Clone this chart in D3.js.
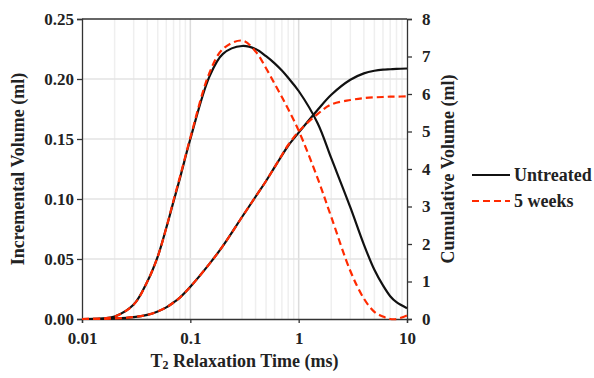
<!DOCTYPE html>
<html>
<head>
<meta charset="utf-8">
<script src="https://cdn.jsdelivr.net/npm/d3@7"></script>
<style>
  body { margin: 0; background: #fff; }
  svg text { font-family: "Liberation Serif", "Times New Roman", serif; font-weight: bold; fill: #222; }
</style>
</head>
<body>
<svg id="grafico"></svg>
<script>
const largura = 594;
const altura = 378;
const margem = { top: 19, right: 187, bottom: 59, left: 82 };

// T2 relaxation time (ms)
const tempos = [0.01, 0.015, 0.02, 0.03, 0.04, 0.05, 0.06, 0.07, 0.08, 0.1, 0.15, 0.2, 0.3, 0.4,
                0.5, 0.6, 0.7, 0.8, 1, 1.5, 2, 3, 4, 5, 6, 7, 8, 10];
// incremental volume (ml), left axis
const incNaoTratado = [0, 0.0004, 0.002, 0.012, 0.031, 0.052, 0.076, 0.098, 0.117, 0.150, 0.202, 0.221, 0.2275, 0.225,
                       0.219, 0.213, 0.207, 0.201, 0.190, 0.163, 0.134, 0.093, 0.062, 0.041, 0.028, 0.019, 0.014, 0.009];
const inc5Semanas  = [0, 0.0004, 0.002, 0.012, 0.031, 0.052, 0.076, 0.099, 0.118, 0.151, 0.205, 0.225, 0.232, 0.223,
                      0.209, 0.196, 0.185, 0.175, 0.157, 0.117, 0.085, 0.040, 0.017, 0.006, 0.002, 0.000, 0.000, 0.003];
// cumulative volume (ml), right axis
const cumNaoTratado = [0, 0.004, 0.015, 0.05, 0.11, 0.20, 0.31, 0.44, 0.57, 0.86, 1.47, 1.95, 2.72, 3.26,
                       3.68, 4.05, 4.36, 4.62, 4.97, 5.58, 5.98, 6.38, 6.55, 6.62, 6.65, 6.66, 6.67, 6.68];
const cum5Semanas  = [0, 0.004, 0.015, 0.05, 0.11, 0.20, 0.31, 0.44, 0.57, 0.86, 1.47, 1.95, 2.72, 3.26,
                      3.68, 4.05, 4.37, 4.64, 5.00, 5.47, 5.72, 5.84, 5.89, 5.91, 5.92, 5.93, 5.93, 5.94];

const ticksX = [0.01, 0.1, 1, 10];
const ticksEsq = [0, 0.05, 0.10, 0.15, 0.20, 0.25];
const ticksDir = [0, 1, 2, 3, 4, 5, 6, 7, 8];

const vermelho = "#ff2a00";

const svg = d3.select("#grafico")
    .attr("width", largura)
    .attr("height", altura);

// Escalas
const x = d3.scaleLog()
    .domain([0.01, 10])
    .range([margem.left, largura - margem.right]);

const yEsq = d3.scaleLinear()
    .domain([0, 0.25])
    .range([altura - margem.bottom, margem.top]);

const yDir = d3.scaleLinear()
    .domain([0, 8])
    .range([altura - margem.bottom, margem.top]);

// Grade
const grade = svg.append("g");
x.ticks().filter(t => t > 0.01 && t < 10).forEach(t => {
    const major = ticksX.includes(+t.toPrecision(3));
    grade.append("line")
        .attr("x1", x(t)).attr("x2", x(t))
        .attr("y1", margem.top).attr("y2", altura - margem.bottom)
        .attr("stroke", major ? "#dcdcdc" : "#efefef")
        .attr("stroke-width", 1.5);
});
ticksEsq.slice(1, -1).forEach(t => {
    grade.append("line")
        .attr("x1", margem.left).attr("x2", largura - margem.right)
        .attr("y1", yEsq(t)).attr("y2", yEsq(t))
        .attr("stroke", "#e3e3e3")
        .attr("stroke-width", 1.5);
});

// Borda superior
svg.append("line")
    .attr("x1", margem.left).attr("x2", largura - margem.right)
    .attr("y1", margem.top).attr("y2", margem.top)
    .attr("stroke", "#333").attr("stroke-width", 1.3);

// Eixos
const eixoX = svg.append("g")
    .attr("transform", `translate(0, ${altura - margem.bottom})`)
    .call(d3.axisBottom(x).tickValues(ticksX).tickFormat(d => d).tickSizeOuter(0).tickSize(4).tickPadding(9));

const eixoEsq = svg.append("g")
    .attr("transform", `translate(${margem.left}, 0)`)
    .call(d3.axisLeft(yEsq).tickValues(ticksEsq).tickFormat(d3.format(".2f")).tickSizeOuter(0).tickSize(5).tickPadding(3));

const eixoDir = svg.append("g")
    .attr("transform", `translate(${largura - margem.right}, 0)`)
    .call(d3.axisRight(yDir).tickValues(ticksDir).tickSizeOuter(0).tickSize(5).tickPadding(10));

[eixoX, eixoEsq, eixoDir].forEach(g => {
    g.selectAll("path, line").attr("stroke", "#333").attr("stroke-width", 1.3);
    g.selectAll("text").attr("font-size", 17).attr("font-family", null).attr("fill", "#222");
});

// Linhas
const dados = tempos.map((t, i) => ({
    t: t,
    incN: incNaoTratado[i], inc5: inc5Semanas[i],
    cumN: cumNaoTratado[i], cum5: cum5Semanas[i]
}));

function linha(campo, escala) {
    return d3.line()
        .x(d => x(d.t))
        .y(d => escala(d[campo]))
        .curve(d3.curveCatmullRom.alpha(0.5));
}

const series = [
    { campo: "incN", escala: yEsq, cor: "#111", dash: null },
    { campo: "cumN", escala: yDir, cor: "#111", dash: null },
    { campo: "inc5", escala: yEsq, cor: vermelho, dash: "7,4" },
    { campo: "cum5", escala: yDir, cor: vermelho, dash: "7,4" }
];

series.forEach(s => {
    svg.append("path")
        .datum(dados)
        .attr("fill", "none")
        .attr("stroke", s.cor)
        .attr("stroke-width", 2.2)
        .attr("stroke-dasharray", s.dash)
        .attr("d", linha(s.campo, s.escala));
});

// Títulos dos eixos
svg.append("text")
    .attr("transform", `translate(24, ${(margem.top + altura - margem.bottom) / 2}) rotate(-90)`)
    .attr("text-anchor", "middle")
    .attr("font-size", 18)
    .text("Incremental Volume (ml)");

svg.append("text")
    .attr("transform", `translate(454, ${(margem.top + altura - margem.bottom) / 2}) rotate(-90)`)
    .attr("text-anchor", "middle")
    .attr("font-size", 18)
    .text("Cumulative Volume (ml)");

const tituloX = svg.append("text")
    .attr("x", (margem.left + largura - margem.right) / 2)
    .attr("y", 367)
    .attr("text-anchor", "middle")
    .attr("font-size", 18);
tituloX.append("tspan").text("T");
tituloX.append("tspan").attr("font-size", 12).attr("dy", 2).text("2");
tituloX.append("tspan").attr("dy", -2).text(" Relaxation Time (ms)");

// Legenda
const legenda = [
    { nome: "Untreated", cor: "#111", dash: null },
    { nome: "5 weeks", cor: vermelho, dash: "7,4" }
];
legenda.forEach((l, i) => {
    const yy = 175 + i * 26;
    svg.append("line")
        .attr("x1", 472).attr("x2", 510)
        .attr("y1", yy).attr("y2", yy)
        .attr("stroke", l.cor)
        .attr("stroke-width", 2.2)
        .attr("stroke-dasharray", l.dash);
    svg.append("text")
        .attr("x", 514)
        .attr("y", yy + 6)
        .attr("font-size", 18)
        .text(l.nome);
});
</script>
</body>
</html>
